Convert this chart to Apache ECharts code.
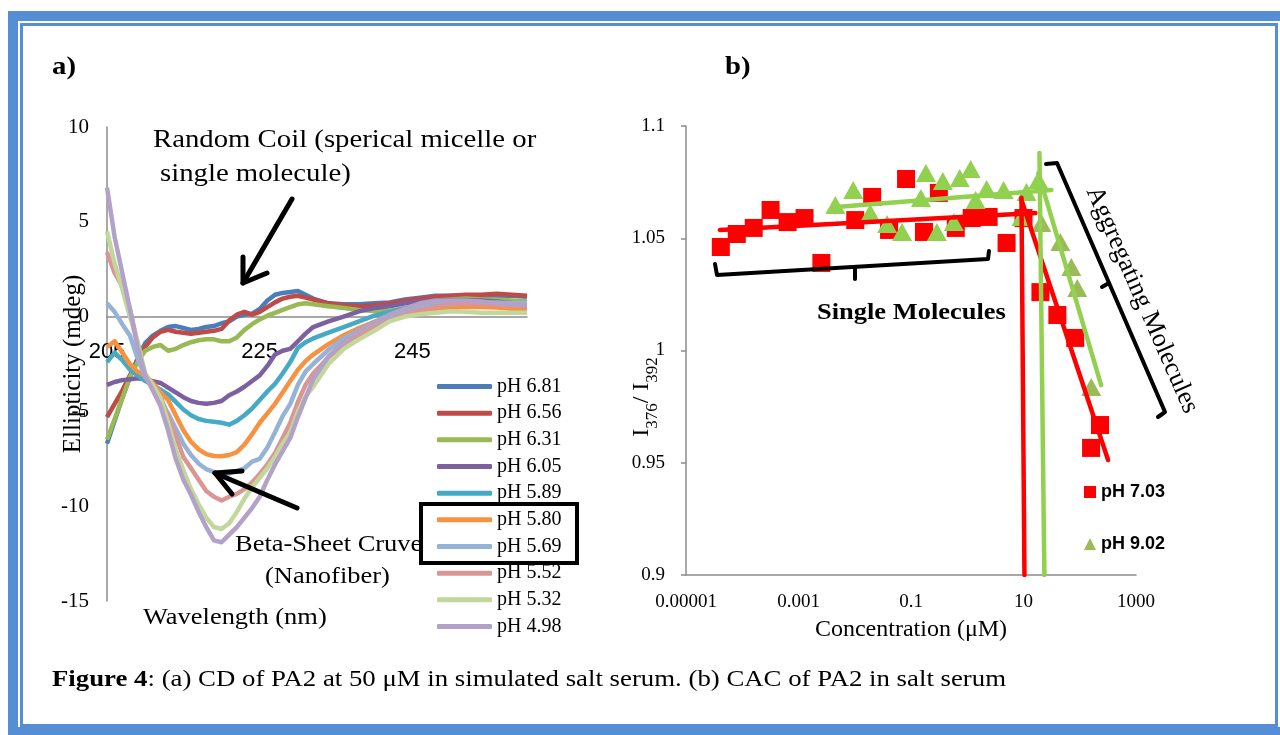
<!DOCTYPE html>
<html>
<head>
<meta charset="utf-8">
<script src="https://cdn.jsdelivr.net/npm/echarts@6/dist/echarts.min.js"></script>
<style>
  html, body { margin: 0; padding: 0; background: #fff; }
  #chart { width: 1280px; height: 735px; }
</style>
</head>
<body>
<div id="chart"></div>
<script>
// ---- (a) CD spectra: wavelength (nm) and ellipticity (mdeg) per pH ----
const wavelength = [205,206,207,208,209,210,211,212,213,214,215,216,217,218,219,220,221,222,223,224,225,226,227,228,229,230,231,232,234,236,238,240,242,244,246,248,250,252,254,256,258,260];

const ph681 = [-6.7,-5.5,-4.3,-3.2,-2.2,-1.4,-1.0,-0.75,-0.55,-0.5,-0.6,-0.7,-0.65,-0.55,-0.5,-0.35,-0.25,0.0,0.1,0.15,0.4,0.85,1.15,1.25,1.3,1.35,1.15,0.95,0.7,0.65,0.65,0.7,0.75,0.9,1.0,1.1,1.1,1.1,1.1,1.1,1.1,1.05];
const ph656 = [-5.3,-4.6,-3.9,-3.1,-2.3,-1.6,-1.1,-0.8,-0.7,-0.8,-0.85,-0.9,-0.85,-0.8,-0.75,-0.65,-0.2,0.1,0.25,0.1,0.25,0.5,0.75,0.95,1.05,1.1,1.0,0.9,0.7,0.6,0.55,0.6,0.7,0.85,0.95,1.05,1.1,1.15,1.15,1.2,1.15,1.1];
const ph631 = [-6.5,-5.4,-4.3,-3.2,-2.4,-1.8,-1.6,-1.5,-1.8,-1.7,-1.5,-1.35,-1.25,-1.2,-1.2,-1.3,-1.3,-1.1,-0.7,-0.4,-0.15,0.05,0.2,0.35,0.5,0.65,0.7,0.65,0.55,0.45,0.35,0.3,0.3,0.45,0.7,0.85,0.9,0.95,0.9,0.9,0.85,0.8];
const ph605 = [-3.6,-3.45,-3.35,-3.3,-3.25,-3.3,-3.4,-3.5,-3.75,-4.0,-4.25,-4.45,-4.55,-4.6,-4.55,-4.45,-4.15,-3.95,-3.7,-3.4,-3.1,-2.6,-2.0,-1.8,-1.7,-1.3,-0.9,-0.55,-0.25,0.0,0.28,0.45,0.55,0.7,0.8,0.85,0.88,0.87,0.85,0.8,0.72,0.67];
const ph589 = [-2.4,-1.9,-2.3,-2.8,-3.1,-3.4,-3.6,-3.85,-4.1,-4.5,-4.9,-5.2,-5.4,-5.5,-5.55,-5.6,-5.7,-5.5,-5.2,-4.85,-4.4,-3.95,-3.55,-3.0,-2.4,-1.65,-1.35,-1.15,-0.85,-0.55,-0.25,0.05,0.25,0.45,0.6,0.68,0.65,0.6,0.58,0.6,0.63,0.67];
const ph580 = [-1.6,-1.3,-1.9,-2.5,-2.9,-3.1,-3.5,-4.0,-4.4,-5.2,-6.0,-6.6,-7.0,-7.25,-7.35,-7.37,-7.3,-7.15,-6.75,-6.2,-5.6,-5.1,-4.6,-4.0,-3.4,-2.8,-2.35,-2.0,-1.45,-0.98,-0.6,-0.28,0.0,0.2,0.32,0.42,0.48,0.5,0.5,0.48,0.42,0.4];
const ph569 = [0.7,0.25,-0.4,-1.0,-2.2,-3.2,-3.75,-4.4,-5.1,-5.9,-6.7,-7.3,-7.75,-8.05,-8.2,-8.3,-8.28,-8.15,-8.0,-7.65,-7.5,-6.9,-6.1,-5.25,-4.6,-3.6,-2.9,-2.5,-1.75,-1.15,-0.72,-0.35,-0.05,0.3,0.55,0.75,0.78,0.78,0.75,0.75,0.72,0.7];
const ph552 = [3.4,2.3,1.6,0.4,-1.4,-3.2,-3.6,-4.2,-5.3,-6.3,-7.4,-8.0,-8.6,-9.2,-9.5,-9.7,-9.5,-9.35,-9.1,-8.75,-8.3,-7.8,-7.2,-6.4,-5.6,-4.5,-3.6,-3.0,-2.15,-1.45,-0.98,-0.58,-0.2,0.1,0.35,0.52,0.62,0.67,0.66,0.62,0.58,0.55];
const ph532 = [4.5,2.8,1.45,0.0,-1.3,-3.0,-3.6,-4.3,-5.6,-7.0,-8.1,-9.1,-9.9,-10.6,-11.1,-11.2,-10.9,-10.3,-9.6,-9.0,-8.5,-8.0,-7.4,-6.7,-6.1,-5.0,-4.2,-3.7,-2.5,-1.7,-1.2,-0.75,-0.25,0.0,0.12,0.2,0.28,0.25,0.2,0.2,0.2,0.2];
const ph498 = [6.8,4.2,2.3,0.4,-1.6,-3.1,-3.9,-4.7,-6.0,-7.5,-8.6,-9.4,-10.3,-11.1,-11.8,-11.9,-11.5,-11.1,-10.6,-10.1,-9.5,-8.6,-7.8,-7.1,-6.4,-5.3,-4.3,-3.3,-2.1,-1.35,-0.75,-0.3,0.1,0.42,0.7,0.84,0.85,0.85,0.8,0.7,0.65,0.6];

const cdNames  = ['pH 6.81','pH 6.56','pH 6.31','pH 6.05','pH 5.89','pH 5.80','pH 5.69','pH 5.52','pH 5.32','pH 4.98'];
const cdValues = [ph681, ph656, ph631, ph605, ph589, ph580, ph569, ph552, ph532, ph498];
const cdColors = ['#4A7EBB','#BE4B48','#98B954','#7D60A0','#46AAC5','#F69240','#95B3D7','#D99694','#C3D69B','#B3A2C7'];

const cdYTicks = [-15, -10, -5, 0, 5, 10];
const cdXTicks = [205, 225, 245];

// ---- (b) CAC: concentration (µM) vs I376/I392 ----
const conc703  = [4.16e-5,8.0e-5,1.6e-4,3.19e-4,6.4e-4,1.28e-3,2.55e-3,0.0102,0.0204,0.0407,0.0817,0.17,0.313,0.625,1.2,2.4,5.0,10,20,40,83,229,159];
const ratio703 = [1.0461,1.0519,1.0546,1.0626,1.0572,1.059,1.039,1.0581,1.0684,1.0537,1.0764,1.0528,1.0702,1.0546,1.059,1.0595,1.0479,1.059,1.026,1.0158,1.0056,0.9668,0.9566];

const conc902  = [0.00452,0.0094,0.0188,0.0376,0.0693,0.150,0.184,0.288,0.368,0.576,0.736,1.15,1.41,2.21,4.43,9.2,11.3,18.4,20.8,45.2,70.8,90.3,160];
const ratio902 = [1.0648,1.0715,1.0612,1.0563,1.0528,1.0679,1.0791,1.0528,1.0755,1.0572,1.0768,1.0808,1.067,1.0719,1.0715,1.0595,1.0706,1.076,1.0568,1.0483,1.0372,1.0278,0.9837];
const aggregateStart902 = 18; // points from here on belong to the aggregating regime

// fitted trend segments [conc, ratio]
const fit703Flat  = [[4.0e-5, 1.0537], [16.3, 1.0612]];
const fit703Drop  = [[9.2, 1.067], [319, 0.9512]];
const fit703Cut   = [[9.2, 1.068], [10.4, 0.9]];
const fit902Flat  = [[0.0047, 1.0639], [31.3, 1.0715]];
const fit902Drop  = [[18.4, 1.079], [240, 0.9846]];
const fit902Cut   = [[19.2, 1.088], [23.5, 0.9]];

const cacNames = ['pH 7.03', 'pH 9.02'];
const cacYTicks = [0.9, 0.95, 1, 1.05, 1.1];

const SERIF = 'Liberation Serif';
const SANS = 'Liberation Sans';
const AXIS_GRAY = '#8C8C8C';
const FRAME_BLUE = '#558ED5';

const chart = echarts.init(document.getElementById('chart'), null, { renderer: 'canvas' });

const cdSeries = cdNames.map((name, k) => ({
  name,
  type: 'line',
  xAxisIndex: 0,
  yAxisIndex: 0,
  data: wavelength.map((w, i) => [w, cdValues[k][i]]),
  showSymbol: false,
  symbol: 'none',
  color: cdColors[k],
  lineStyle: { width: 4.5, color: cdColors[k], join: 'round' },
  z: 2,
  silent: true
}));

const fitLine = (data, color) => ({
  type: 'line',
  xAxisIndex: 1,
  yAxisIndex: 1,
  data,
  showSymbol: false,
  symbol: 'none',
  lineStyle: { width: 4.5, color, cap: 'round' },
  z: 4,
  silent: true
});

const cacSeries = [
  {
    name: cacNames[0],
    type: 'scatter',
    xAxisIndex: 1,
    yAxisIndex: 1,
    symbol: 'rect',
    symbolSize: 18,
    itemStyle: { color: '#FF0000', opacity: 1 },
    data: conc703.map((c, i) => [c, ratio703[i]]),
    z: 2
  },
  {
    name: cacNames[1],
    type: 'scatter',
    xAxisIndex: 1,
    yAxisIndex: 1,
    symbol: 'triangle',
    symbolSize: [20, 18],
    itemStyle: { color: '#9BBB59', opacity: 1 },
    data: conc902.map((c, i) => i < aggregateStart902
      ? { value: [c, ratio902[i]], itemStyle: { color: '#92D050', opacity: 1 } }
      : { value: [c, ratio902[i]] }),
    z: 3
  },
  fitLine(fit703Flat, '#FF0000'),
  fitLine(fit703Drop, '#FF0000'),
  fitLine(fit703Cut, '#FF0000'),
  fitLine(fit902Flat, '#92D050'),
  fitLine(fit902Drop, '#92D050'),
  fitLine(fit902Cut, '#92D050')
];

// stretched serif annotation text
const note = (x, y, text, size, extra = {}) => ({
  type: 'text',
  x, y,
  scaleX: 1.15,
  z: 100,
  style: Object.assign({
    text,
    fontFamily: SERIF,
    fontSize: size,
    fill: '#000',
    textAlign: 'left',
    textVerticalAlign: 'middle'
  }, extra)
});

const stroke = (points, width) => ({
  type: 'polyline',
  z: 100,
  shape: { points },
  style: { stroke: '#000', lineWidth: width, fill: null, lineJoin: 'round', lineCap: 'round' }
});

const graphics = [
  // page frame
  { type: 'rect', z: 100, shape: { x: 13, y: 16, width: 1272, height: 716 },
    style: { stroke: FRAME_BLUE, lineWidth: 10, fill: null } },
  { type: 'rect', z: 100, shape: { x: 21.5, y: 24.5, width: 1255, height: 701 },
    style: { stroke: FRAME_BLUE, lineWidth: 3, fill: null } },

  // panel tags
  note(52, 68, 'a)', 25, { fontWeight: 'bold' }),
  note(725, 68, 'b)', 25, { fontWeight: 'bold' }),

  // (a) annotations
  note(153, 140, 'Random Coil (sperical micelle or', 25),
  note(160, 174, 'single molecule)', 25),
  stroke([[292, 199], [243, 283]], 5),
  stroke([[243, 257], [243, 283], [267, 273]], 5),
  note(235, 545, 'Beta-Sheet Cruve', 23),
  note(265, 577, '(Nanofiber)', 23),
  stroke([[297, 508], [215, 473]], 5),
  stroke([[242, 471], [215, 473], [232, 494]], 5),
  note(143, 618, 'Wavelength (nm)', 23),
  { type: 'rect', z: 100, shape: { x: 421, y: 504, width: 156, height: 59 },
    style: { stroke: '#000', lineWidth: 4, fill: null } },

  // (b) annotations
  {
    type: 'text', x: 642, y: 397, rotation: Math.PI / 2, z: 100,
    style: {
      text: '{i|I}{s|376}{i|/ I}{s|392}',
      textAlign: 'center',
      textVerticalAlign: 'middle',
      fill: '#000',
      rich: {
        i: { fontFamily: SERIF, fontSize: 24, fill: '#000' },
        s: { fontFamily: SERIF, fontSize: 17, fill: '#000', padding: [22, 0, 0, 0] }
      }
    }
  },
  stroke([[715, 264], [717, 275], [988, 259], [989, 251]], 4),
  stroke([[855, 267], [855, 279]], 4),
  note(817, 313, 'Single Molecules', 23, { fontWeight: 'bold' }),
  stroke([[1046, 164], [1057, 163], [1165, 412], [1158, 417]], 4),
  stroke([[1109, 283], [1102, 287]], 4),
  {
    type: 'text', x: 1142, y: 300, rotation: -1.155, z: 100,
    style: {
      text: 'Aggregating Molecules',
      fontFamily: SERIF, fontSize: 26, fill: '#000',
      textAlign: 'center', textVerticalAlign: 'middle'
    }
  },

  // caption
  note(52, 680, '{b|Figure 4}: (a) CD of PA2 at 50 \u03bcM in simulated salt serum. (b) CAC of PA2 in salt serum', 23.3, {
    rich: { b: { fontFamily: SERIF, fontSize: 23.3, fontWeight: 'bold', fill: '#000' } }
  })
];

const option = {
  backgroundColor: '#fff',
  animation: false,
  grid: [
    { left: 107, top: 127, width: 420, height: 474 },
    { left: 686, top: 126, width: 450, height: 449 }
  ],
  xAxis: [
    {
      gridIndex: 0, type: 'value', min: 205, max: 260, interval: 20,
      axisLine: { show: true, onZero: true, lineStyle: { color: AXIS_GRAY, width: 1.5 } },
      axisTick: { show: false },
      splitLine: { show: false },
      axisLabel: {
        showMaxLabel: false,
        // tick labels sit just under the zero line, inside the plot
        margin: -260,
        fontFamily: SANS, fontSize: 22, color: '#000',
        formatter: v => cdXTicks.includes(Math.round(v)) ? String(Math.round(v)) : ''
      }
    },
    {
      gridIndex: 1, type: 'log', logBase: 10, min: 1e-5, max: 1000,
      axisLine: { show: true, onZero: false, lineStyle: { color: AXIS_GRAY, width: 1.5 } },
      axisTick: { show: false },
      minorTick: { show: false },
      splitLine: { show: false },
      axisLabel: {
        margin: 18,
        fontFamily: SERIF, fontSize: 19, color: '#000',
        formatter: v => {
          const e = Math.round(Math.log10(v));
          if ((e + 5) % 2 !== 0) return '';
          return e < 0 ? Math.pow(10, e).toFixed(-e) : String(Math.pow(10, e));
        }
      },
      name: 'Concentration (\u03bcM)',
      nameLocation: 'middle',
      nameGap: 43,
      nameMoveOverlap: false,
      nameTextStyle: { fontFamily: SERIF, fontSize: 24, color: '#000' }
    }
  ],
  yAxis: [
    {
      gridIndex: 0, type: 'value', min: cdYTicks[0], max: cdYTicks[cdYTicks.length - 1], interval: 5,
      axisLine: { show: true, onZero: false, lineStyle: { color: AXIS_GRAY, width: 1.5 } },
      axisTick: { show: false },
      splitLine: { show: false },
      axisLabel: { margin: 18, fontFamily: SERIF, fontSize: 21, color: '#000' },
      name: 'Ellipticity (mdeg)',
      nameLocation: 'middle',
      nameGap: 21,
      nameRotate: 90,
      nameMoveOverlap: false,
      nameTextStyle: { fontFamily: SERIF, fontSize: 25, color: '#000' }
    },
    {
      gridIndex: 1, type: 'value', min: cacYTicks[0], max: cacYTicks[cacYTicks.length - 1], interval: 0.05,
      axisLine: { show: true, onZero: false, lineStyle: { color: AXIS_GRAY, width: 1.5 } },
      axisTick: { show: true, length: 5, lineStyle: { color: AXIS_GRAY, width: 1.5 } },
      splitLine: { show: false },
      axisLabel: {
        margin: 21, fontFamily: SERIF, fontSize: 19, color: '#000',
        formatter: v => String(+v.toFixed(2))
      }
    }
  ],
  legend: [
    {
      data: cdNames,
      orient: 'vertical',
      left: 437, top: 376,
      itemWidth: 55, itemHeight: 5, itemGap: 5.67,
      icon: 'roundRect',
      selectedMode: false,
      padding: 0,
      textStyle: { fontFamily: SERIF, fontSize: 20, lineHeight: 21, color: '#000' }
    },
    {
      data: cacNames,
      orient: 'vertical',
      left: 1084, top: 483,
      itemWidth: 12, itemHeight: 12, itemGap: 34,
      selectedMode: false,
      padding: 0,
      textStyle: { fontFamily: SANS, fontSize: 18, fontWeight: 'bold', lineHeight: 16, color: '#000' }
    }
  ],
  graphic: graphics,
  series: cdSeries.concat(cacSeries)
};

chart.setOption(option);
</script>
</body>
</html>
